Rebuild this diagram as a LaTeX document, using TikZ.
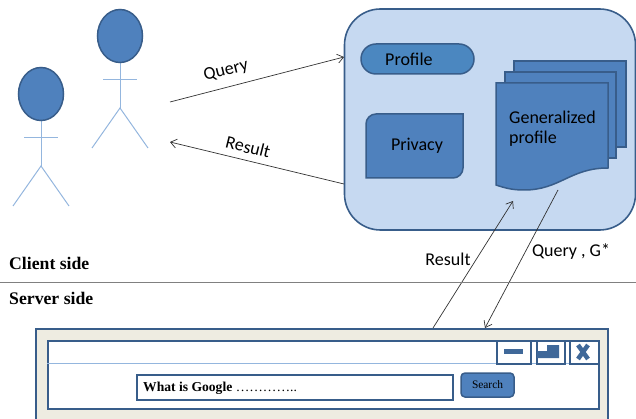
\documentclass[tikz,border=0pt]{standalone}
\usepackage{fontspec}
\usetikzlibrary{shapes.geometric, arrows.meta}
\setmainfont{Carlito}
\newfontfamily\serifface{Liberation Serif}
\definecolor{shapeblue}{HTML}{4F81BD}
\definecolor{darkblue}{HTML}{385D8A}
\definecolor{paleblue}{HTML}{C6D9F1}
\definecolor{limbblue}{HTML}{94B6DE}
\definecolor{beige}{HTML}{EEECE1}
\tikzset{
    shape box/.style={draw=darkblue, line width=1.5pt, fill=shapeblue, inner sep=0pt},
    limb/.style={draw=limbblue, line width=1pt},
    link/.style={-{Straight Barb[length=6pt, width=9pt]}, draw=black!80, line width=0.7pt},
    label text/.style={font=\fontsize{18}{21}\selectfont, inner sep=0pt},
    side text/.style={font=\fontsize{17.7}{21}\selectfont\serifface\bfseries, inner sep=0pt, anchor=west},
    win box/.style={draw=darkblue, line width=1.9pt, fill=white, inner sep=0pt, anchor=north west},
}
\begin{document}
\begin{tikzpicture}[x=1pt, y=-1pt]
    \useasboundingbox (0,0) rectangle (636,419);
    % users
    \foreach \x/\y/\n in {41/94/userA, 120/36/userB} {
        \draw[limb] (\x, \y + 27) -- (\x, \y + 72);
        \draw[limb] (\x - 17, \y + 43.5) -- (\x + 17, \y + 43.5);
        \draw[limb] (\x - 28, \y + 112) -- (\x, \y + 72) -- (\x + 28, \y + 112);
        \node[shape box, ellipse, minimum width=45pt, minimum height=53pt] (\n) at (\x, \y) {};
    }
    % client box
    \node[draw=darkblue, line width=1.6pt, fill=paleblue, rounded corners=36pt, minimum width=291pt, minimum height=221pt] (client) at (490,119.5) {};
    \node[shape box, rounded corners=15pt, fill=shapeblue!95!cyan, minimum width=113pt, minimum height=30pt] (profile) at (417.5,59) {};
    \node[label text, anchor=west] (profileText) at (385,59) {Profile};
    \draw[shape box] (376,114) -- (463,114) -- (463,168) arc[start angle=0, end angle=90, radius=10] -- (366,178) -- (366,124) arc[start angle=180, end angle=270, radius=10] -- cycle;
    \node[label text] (privacy) at (417,146) {Privacy};
    % stacked pages
    \draw[shape box] (514,61) rectangle (626,147);
    \draw[shape box] (505,72) rectangle (616,158);
    \draw[shape box] (496,83) -- (608,83) -- (608,168) .. controls (570,168) and (560,190) .. (524,190) .. controls (512,190) and (505,188) .. (496,185) -- cycle;
    \node[label text, anchor=west] (genA) at (509,117) {Generalized};
    \node[label text, anchor=west] (genB) at (509,139) {profile};
    % arrows
    \coordinate (queryFrom) at (170,102);
    \coordinate (queryTo) at (344,57);
    \coordinate (resultFrom) at (344,184);
    \coordinate (resultTo) at (170,142);
    \coordinate (upFrom) at (433,328);
    \coordinate (upTo) at (513,201);
    \coordinate (downFrom) at (558,190);
    \coordinate (downTo) at (485,328);
    \draw[link] (queryFrom) -- (queryTo);
    \draw[link] (resultFrom) -- (resultTo);
    \draw[link] (upFrom) -- (upTo);
    \draw[link] (downFrom) -- (downTo);
    \node[label text, rotate=14] (queryLabel) at (226,71) {Query};
    \node[label text, rotate=-14] (resultLabel) at (248,147) {Result};
    \node[label text] (upLabel) at (448,259) {Result};
    \node[label text] (downLabel) at (571,252) {Query , G*};
    % client and server
    \coordinate (sepLeft) at (0,282);
    \coordinate (sepRight) at (636,282);
    \draw[draw=black!50, line width=0.7pt] (sepLeft) -- (sepRight);
    \node[side text] (clientSide) at (9,263) {Client side};
    \node[side text] (serverSide) at (9,298) {Server side};
    % browser window
    \fill[beige] (36,419) -- (36,329) -- (608,329) -- (608,419) -- cycle;
    \draw[draw=darkblue, line width=1.9pt] (36,419) -- (36,329) -- (608,329) -- (608,419);
    \node[win box, minimum width=551pt, minimum height=68pt] (window) at (47,340) {};
    \coordinate (barLeft) at (47,363);
    \coordinate (barRight) at (598,363);
    \draw[limb] (barLeft) -- (barRight);
    \node[win box, minimum width=34pt, minimum height=23pt] (minBtn) at (496,340) {};
    \node[win box, minimum width=28pt, minimum height=23pt] (maxBtn) at (536,340) {};
    \node[win box, minimum width=29pt, minimum height=23pt] (closeBtn) at (569,340) {};
    \fill[darkblue!70!shapeblue] (504,349) rectangle (523,354);
    \fill[darkblue!70!shapeblue] (537,351) -- (547,351) -- (547,345) -- (559,345) -- (559,358) -- (537,358) -- cycle;
    \draw[draw=darkblue!70!shapeblue, line width=4.5pt] (578,345) -- (588,359) (588,345) -- (578,359);
    \node[win box, minimum width=316pt, minimum height=25pt] (queryBox) at (136,374) {};
    \node[anchor=west, inner sep=0pt, font=\fontsize{13.6}{16}\selectfont\serifface] (queryText) at (143,388) {\textbf{What is Google} …………..};
    \node[shape box, rounded corners=4pt, minimum width=53pt, minimum height=24pt, font=\fontsize{11.4}{14}\selectfont\serifface] (search) at (487.5,385) {Search};
\end{tikzpicture}
\end{document}
